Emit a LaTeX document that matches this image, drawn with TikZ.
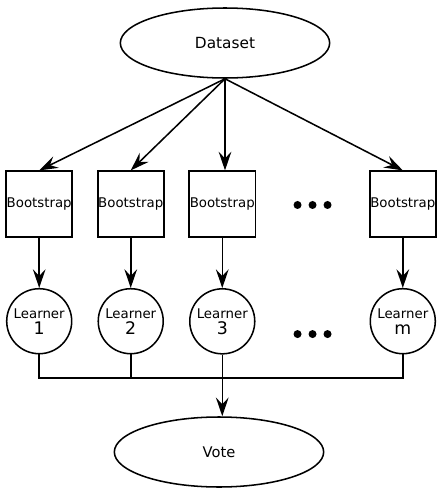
\documentclass[tikz,border=0pt]{standalone}
\usepackage{fontspec}
\setmainfont{DejaVu Sans}
\usetikzlibrary{matrix, arrows.meta, shapes.geometric}
\newcommand\lnum[1]{{\fontsize{13}{11}\selectfont #1}}

\begin{document}
\begin{tikzpicture} [x=0.75pt, y=-0.75pt, line width=1.15pt,
  arr/.style={-{Stealth[length=14pt, width=9.5pt, inset=5pt]}},
  boot/.style={draw, rectangle, minimum size=49.5pt, inner sep=0pt, font=\fontsize{10}{12}\selectfont},
  learn/.style={draw, circle, minimum size=48.75pt, inner sep=0pt, align=center, font=\fontsize{10}{12}\selectfont},
  blob/.style={draw, ellipse, minimum width=157pt, minimum height=52.5pt, font=\fontsize{11.5}{13}\selectfont},
  gap/.style={minimum width=48.75pt, inner sep=0pt}]
\useasboundingbox (0,0) rectangle (443,496);
\node[blob](ds) at (225,43){Dataset};
\matrix (m) [matrix of nodes, column sep = 18pt, row sep = 37.5pt] at (221,262.5){
\node[boot](b1){Bootstrap}; & \node[boot](b2){Bootstrap}; & \node[boot](b3){Bootstrap}; & \node[gap](d1){}; & \node[boot](bm){Bootstrap}; \\
\node[learn](l1){Learner\\ \lnum{1}}; & \node[learn](l2){Learner\\ \lnum{2}}; & \node[learn](l3){Learner\\ \lnum{3}}; & \node[gap](d2){}; & \node[learn](lm){Learner\\ \lnum{m}}; \\
};
\node[blob, font=\fontsize{11}{13}\selectfont](vote) at (219,452){Vote};
\foreach \x in {-15,0,15} \fill ([xshift=\x*0.75pt, yshift=2pt]d1) circle (3pt);
\foreach \x in {-15,0,15} \fill ([xshift=\x*0.75pt]d2) circle (3pt);
\draw[arr] (ds.south) -- (b1.north);
\draw[arr] (ds.south) -- (b2.north);
\draw[arr] (ds.south) -- (ds.south |- b3.north);
\draw[arr] (ds.south) -- (bm.north);
\foreach \i in {1,2,3,m} \draw[arr] (b\i) -- (l\i);
\coordinate (bus) at (0,378);
\draw (l1.south) |- (lm.south |- bus) -- (lm.south);
\draw (l2.south) -- (l2.south |- bus);
\draw[arr] (l3.south) -- (l3.south |- vote.north);
\end{tikzpicture}
\end{document}
